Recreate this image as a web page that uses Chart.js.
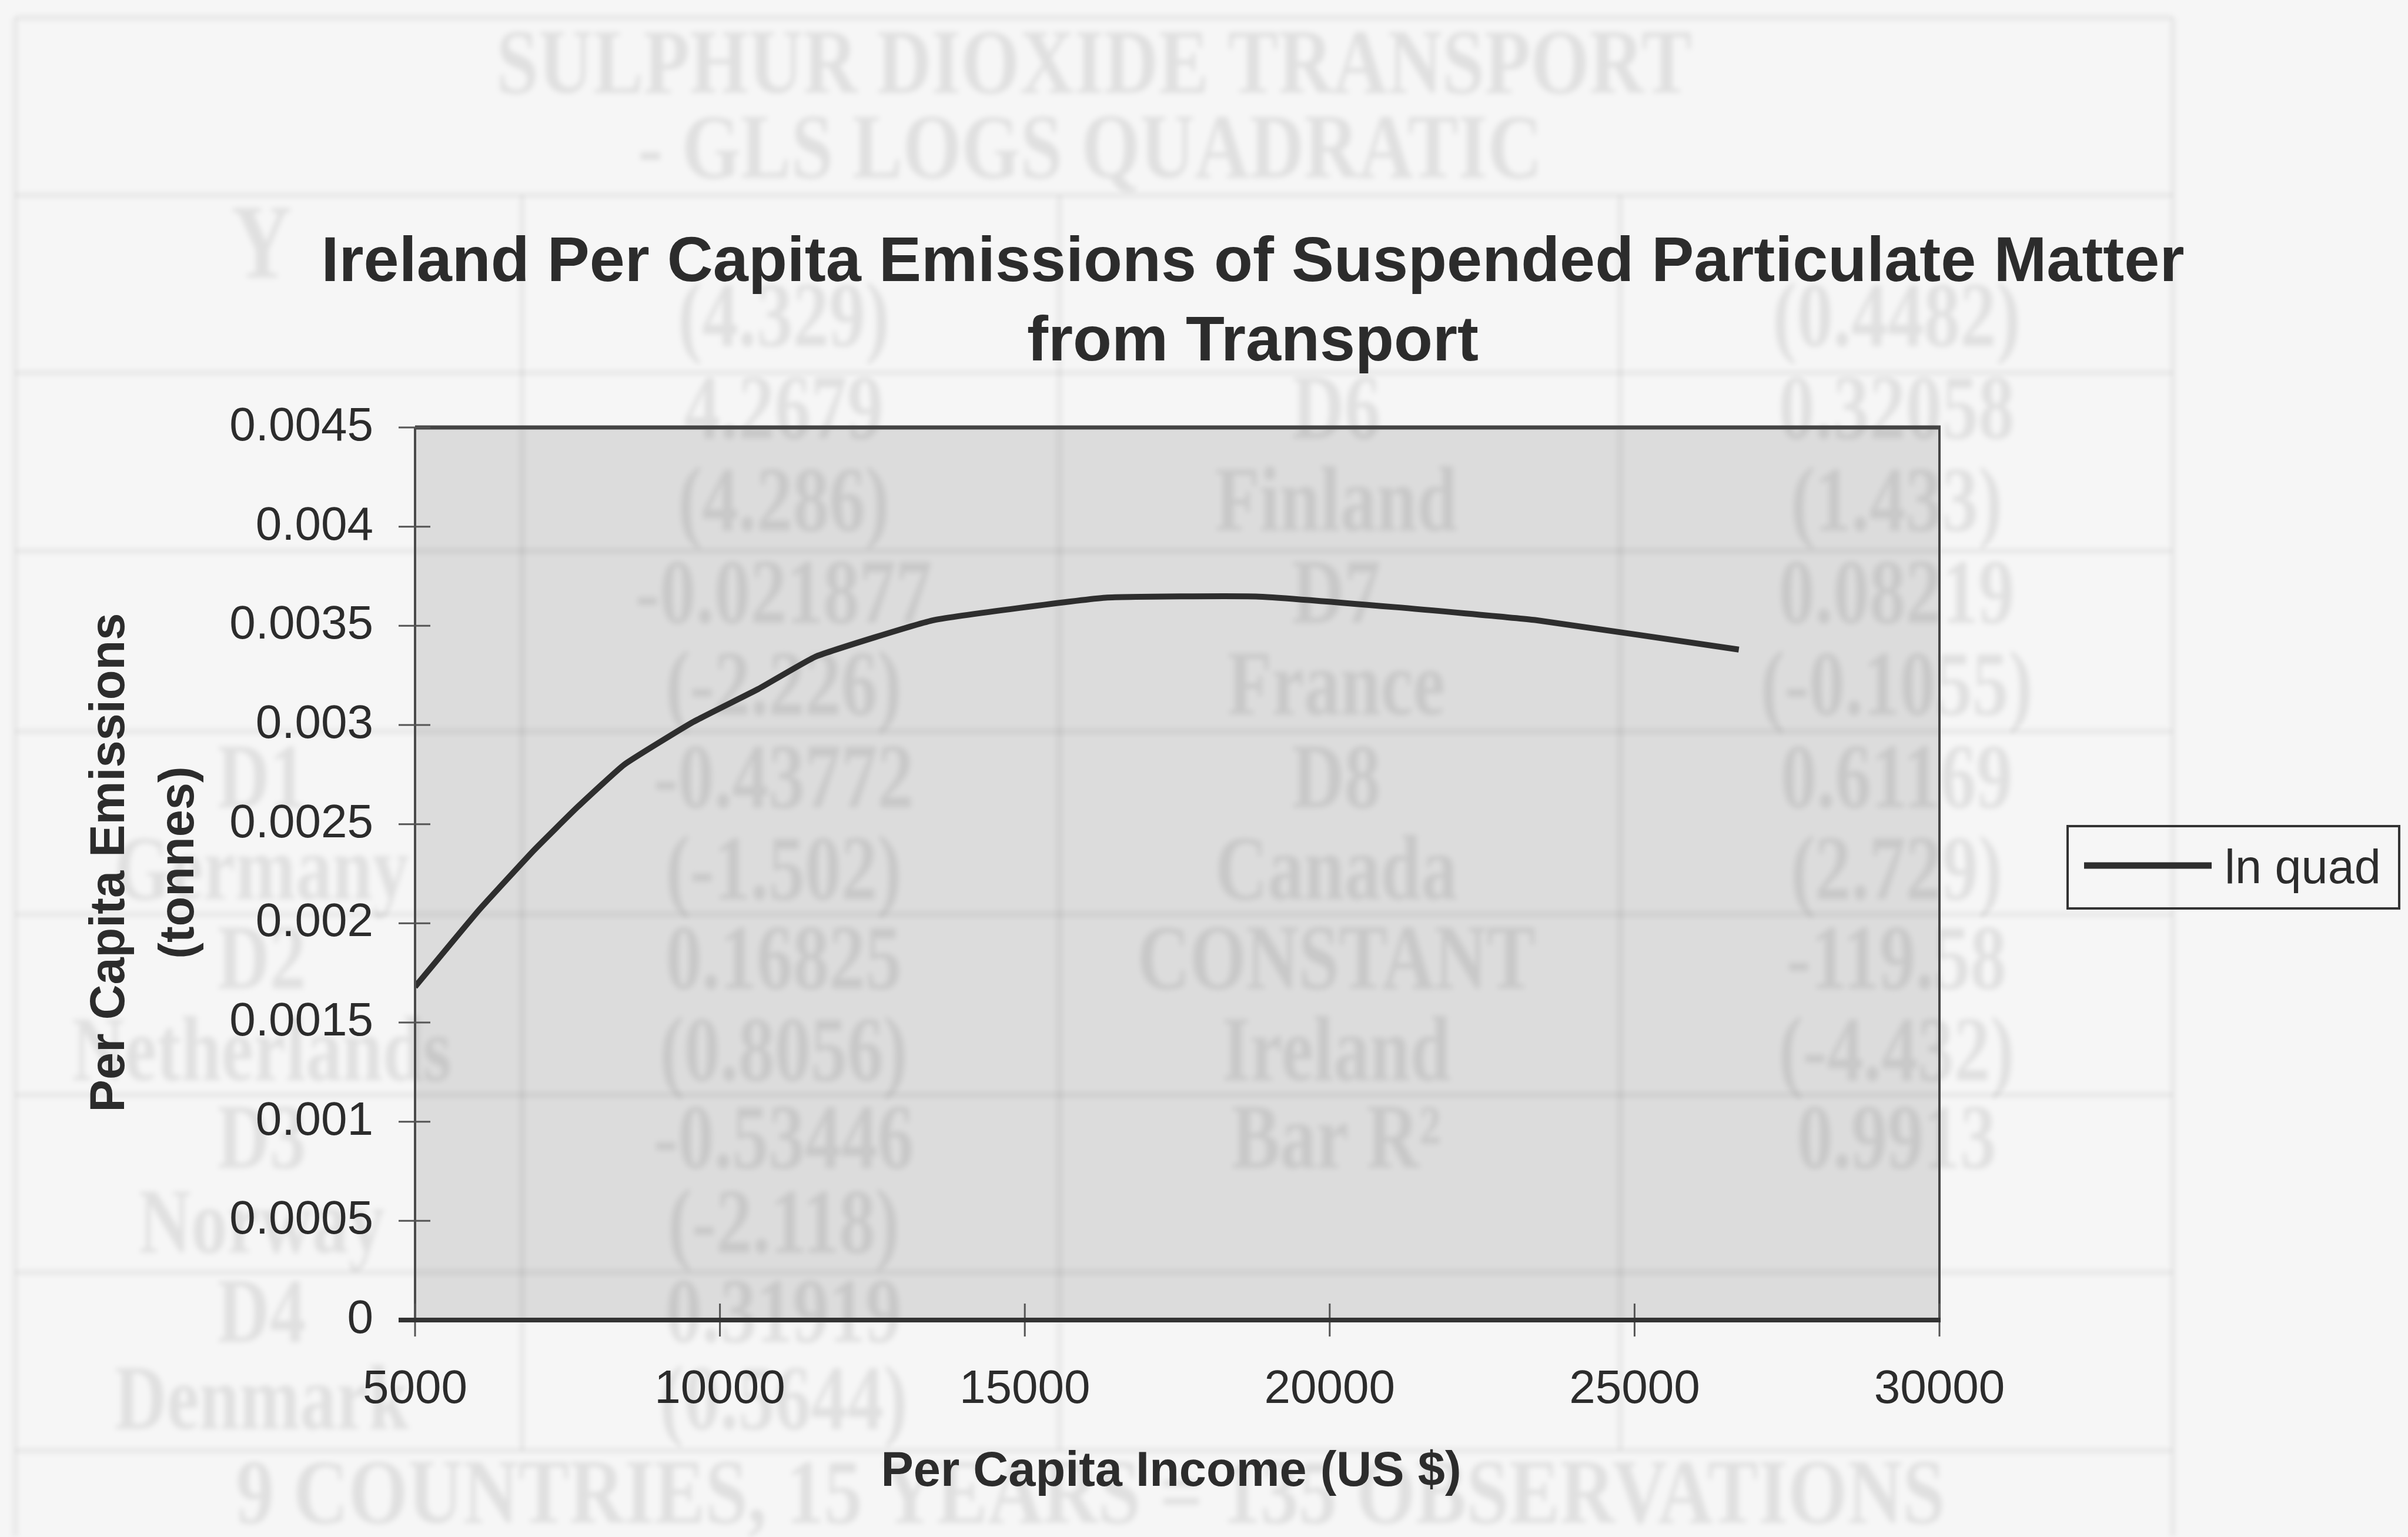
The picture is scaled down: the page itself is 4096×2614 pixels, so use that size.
<!DOCTYPE html>
<html>
<head>
<meta charset="utf-8">
<script src="https://cdn.jsdelivr.net/npm/chart.js@4.4.1/dist/chart.umd.min.js"></script>
<style>
  html, body { margin: 0; padding: 0; background: #f6f6f6; }
  #wrap { width: 4096px; height: 2614px; position: relative; }
</style>
</head>
<body>
<div id="wrap"><canvas id="c" width="4096" height="2614"></canvas></div>
<script>
// Fitted per-capita emissions along the income path (one point per year)
const incomeUSD = [5000, 6040, 6955, 7660, 8430, 9560, 10620, 11578, 13510, 16325, 18790, 21080, 23370, 26710];
const emissionsTonnes = [0.00168, 0.002064, 0.00237, 0.002585, 0.0028, 0.003015, 0.00318, 0.003346, 0.003529, 0.003642, 0.003648, 0.003594, 0.003529, 0.00338];
const seriesName = 'ln quad';

const xTickValues = [5000, 10000, 15000, 20000, 25000, 30000];
const yTickValues = [0, 0.0005, 0.001, 0.0015, 0.002, 0.0025, 0.003, 0.0035, 0.004, 0.0045];

const titleLines = ['Ireland Per Capita Emissions of Suspended Particulate Matter', 'from Transport'];
const xAxisTitle = 'Per Capita Income (US $)';
const yAxisTitleLines = ['Per Capita Emissions', '(tonnes)'];

// Faint regression table printed behind the chart
const tableHeading = ['SULPHUR DIOXIDE TRANSPORT', '- GLS LOGS QUADRATIC'];
const tableCells = [
  [0, 0, 'Y'],
  [1, 1, '(4.329)'], [3, 1, '(0.4482)'],
  [1, 2, '4.2679'], [2, 2, 'D6'], [3, 2, '0.32058'],
  [1, 3, '(4.286)'], [2, 3, 'Finland'], [3, 3, '(1.433)'],
  [1, 4, '-0.021877'], [2, 4, 'D7'], [3, 4, '0.08219'],
  [1, 5, '(-2.226)'], [2, 5, 'France'], [3, 5, '(-0.1055)'],
  [0, 6, 'D1'], [1, 6, '-0.43772'], [2, 6, 'D8'], [3, 6, '0.61169'],
  [0, 7, 'Germany'], [1, 7, '(-1.502)'], [2, 7, 'Canada'], [3, 7, '(2.729)'],
  [0, 8, 'D2'], [1, 8, '0.16825'], [2, 8, 'CONSTANT'], [3, 8, '-119.58'],
  [0, 9, 'Netherlands'], [1, 9, '(0.8056)'], [2, 9, 'Ireland'], [3, 9, '(-4.432)'],
  [0, 10, 'D3'], [1, 10, '-0.53446'], [2, 10, 'Bar R²'], [3, 10, '0.9913'],
  [0, 11, 'Norway'], [1, 11, '(-2.118)'],
  [0, 12, 'D4'], [1, 12, '0.31919'],
  [0, 13, 'Denmark'], [1, 13, '(0.5644)']
];
const tableFooter = '9 COUNTRIES, 15 YEARS = 135 OBSERVATIONS';

// Page geometry
const AREA = { left: 706, right: 3299, top: 727, bottom: 2245 };
const Y_SCALE_W = 400;
const X_SCALE_H = 200;
const INK = '#2c2c2c';
const SANS = '"Liberation Sans", Arial, sans-serif';
const SERIF = '"Liberation Serif", "Times New Roman", serif';

const tableCols = [445, 1333, 2273, 3226];
const tableRows = [425, 548, 705, 862, 1019, 1175, 1333, 1489, 1641, 1797, 1946, 2090, 2242, 2390];
const tableHLines = [30, 332, 634, 937, 1244, 1555, 1862, 2164, 2467];
const tableVLines = [26, 888, 1802, 2756, 3696];

// draws a faint, slightly tall serif label centred on (x, y)
function ghostText(ctx, text, x, y, size, sx) {
  ctx.save();
  ctx.translate(x, y);
  ctx.scale(sx, 1.2);
  ctx.font = 'bold ' + size + 'px ' + SERIF;
  ctx.fillText(text, 0, 0);
  ctx.restore();
}

const plotBackground = {
  id: 'plotBackground',
  beforeDatasetsDraw(chart) {
    const { ctx, chartArea: a } = chart;
    ctx.save();
    ctx.fillStyle = '#dcdcdc';
    ctx.fillRect(a.left, a.top, a.right - a.left, a.bottom - a.top);

    // show-through table
    ctx.filter = 'blur(5px)';
    ctx.strokeStyle = 'rgba(0,0,0,0.07)';
    ctx.lineWidth = 7;
    tableHLines.forEach(y => {
      ctx.beginPath(); ctx.moveTo(tableVLines[0], y); ctx.lineTo(tableVLines[4], y); ctx.stroke();
    });
    tableVLines.forEach((x, i) => {
      const y0 = (i === 0 || i === 4) ? tableHLines[0] : tableHLines[1];
      const y1 = (i === 0 || i === 4) ? 2614 : tableHLines[8];
      ctx.beginPath(); ctx.moveTo(x, y0); ctx.lineTo(x, y1); ctx.stroke();
    });
    ctx.fillStyle = 'rgba(0,0,0,0.085)';
    ctx.textAlign = 'center';
    ctx.textBaseline = 'middle';
    ghostText(ctx, tableHeading[0], 1861, 118, 130, 0.99);
    ghostText(ctx, tableHeading[1], 1854, 262, 130, 0.99);
    tableCells.forEach(([c, r, t]) => {
      ghostText(ctx, t, tableCols[c], tableRows[r], t === 'Y' ? 150 : 130, 0.95);
    });
    ghostText(ctx, tableFooter, 1855, 2550, 130, 1.0);
    ctx.restore();
  }
};

const frameAndText = {
  id: 'frameAndText',
  afterDraw(chart) {
    const { ctx, chartArea: a, scales } = chart;
    const xs = scales.x, ys = scales.y;
    ctx.save();

    // plot frame
    ctx.strokeStyle = '#444';
    ctx.lineWidth = 7;
    ctx.beginPath(); ctx.moveTo(a.left, a.top); ctx.lineTo(a.right + 2, a.top); ctx.stroke();
    ctx.lineWidth = 4;
    ctx.beginPath(); ctx.moveTo(a.right, a.top); ctx.lineTo(a.right, a.bottom); ctx.stroke();
    ctx.strokeStyle = '#4a4a4a';
    ctx.beginPath(); ctx.moveTo(a.left, a.top); ctx.lineTo(a.left, a.bottom); ctx.stroke();

    // cross tick marks
    ctx.lineWidth = 3;
    ctx.strokeStyle = '#555';
    yTickValues.forEach(v => {
      const y = ys.getPixelForValue(v);
      ctx.beginPath(); ctx.moveTo(a.left - 28, y); ctx.lineTo(a.left + 26, y); ctx.stroke();
    });
    xTickValues.forEach(v => {
      const x = xs.getPixelForValue(v);
      ctx.beginPath(); ctx.moveTo(x, a.bottom - 28); ctx.lineTo(x, a.bottom + 28); ctx.stroke();
    });
    ctx.strokeStyle = '#333';
    ctx.lineWidth = 8;
    ctx.beginPath(); ctx.moveTo(a.left - 28, a.bottom); ctx.lineTo(a.right + 2, a.bottom); ctx.stroke();

    // titles
    ctx.fillStyle = INK;
    ctx.textAlign = 'center';
    ctx.textBaseline = 'alphabetic';
    ctx.font = 'bold 108px ' + SANS;
    ctx.fillText(titleLines[0], 2131, 478);
    ctx.fillText(titleLines[1], 2131, 613);

    ctx.textBaseline = 'middle';
    ctx.font = 'bold 83px ' + SANS;
    ctx.fillText(xAxisTitle, 1992, 2504);

    [188, 306].forEach((cx, i) => {
      ctx.save();
      ctx.translate(cx, 1467);
      ctx.rotate(-Math.PI / 2);
      ctx.fillText(yAxisTitleLines[i], 0, 0);
      ctx.restore();
    });

    // legend
    const ds = chart.data.datasets[0];
    ctx.strokeStyle = '#333';
    ctx.lineWidth = 4;
    ctx.strokeRect(3517, 1405, 4081 - 3517, 1545 - 1405);
    ctx.strokeStyle = ds.borderColor;
    ctx.lineWidth = ds.borderWidth + 1;
    ctx.beginPath(); ctx.moveTo(3545, 1472); ctx.lineTo(3762, 1472); ctx.stroke();
    ctx.fillStyle = INK;
    ctx.textAlign = 'left';
    ctx.textBaseline = 'alphabetic';
    ctx.font = '81px ' + SANS;
    ctx.fillText(ds.label, 3784, 1502);

    ctx.restore();
  }
};

new Chart(document.getElementById('c'), {
  type: 'line',
  data: {
    datasets: [{
      label: seriesName,
      data: incomeUSD.map((x, i) => ({ x, y: emissionsTonnes[i] })),
      borderColor: '#2e2e2e',
      borderWidth: 10,
      pointRadius: 0,
      tension: 0.12,
      borderJoinStyle: 'round',
      fill: false
    }]
  },
  options: {
    responsive: false,
    animation: false,
    events: [],
    layout: {
      padding: {
        left: AREA.left - Y_SCALE_W,
        right: 4096 - AREA.right,
        top: AREA.top,
        bottom: 2614 - AREA.bottom - X_SCALE_H
      }
    },
    plugins: {
      legend: { display: false },
      title: { display: false },
      tooltip: { enabled: false }
    },
    scales: {
      x: {
        type: 'linear',
        min: 5000,
        max: 30000,
        border: { display: false },
        grid: { display: false, drawTicks: false },
        afterBuildTicks: s => { s.ticks = xTickValues.map(v => ({ value: v })); },
        afterFit: s => { s.height = X_SCALE_H; },
        ticks: {
          font: { family: SANS, size: 80 },
          color: INK,
          padding: 71,
          maxRotation: 0,
          autoSkip: false,
          callback: v => String(v)
        }
      },
      y: {
        type: 'linear',
        min: 0,
        max: 0.0045,
        border: { display: false },
        grid: { display: false, drawTicks: false },
        afterBuildTicks: s => { s.ticks = yTickValues.map(v => ({ value: v })); },
        afterFit: s => { s.width = Y_SCALE_W; },
        ticks: {
          font: { family: SANS, size: 80 },
          color: INK,
          padding: 71,
          autoSkip: false,
          callback: v => String(+Number(v).toFixed(4))
        }
      }
    }
  },
  plugins: [plotBackground, frameAndText]
});
</script>
</body>
</html>
